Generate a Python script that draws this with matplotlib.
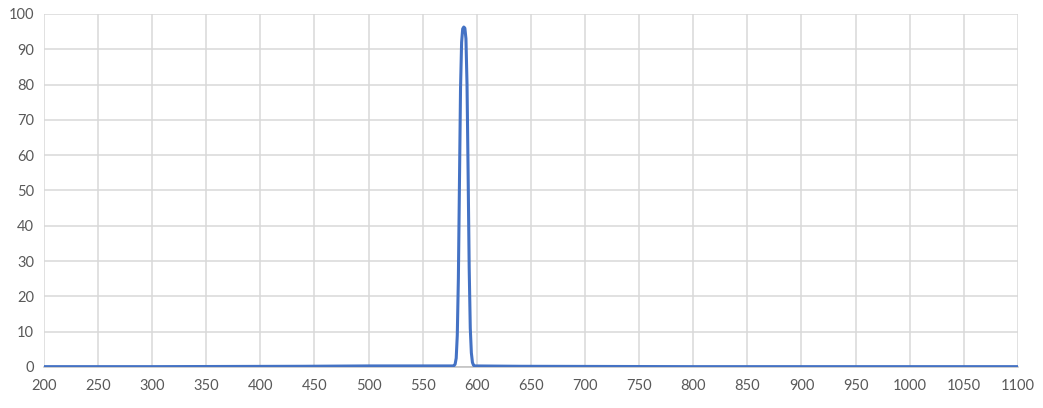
import numpy as np
import matplotlib.pyplot as plt

plt.rcParams['font.family'] = ['Lato', 'DejaVu Sans']

# wavelength (nm) and transmission (%)
wavelength = [200, 300, 440, 500, 578, 579, 580, 581, 582, 583, 584, 585, 586,
              587, 588, 589, 590, 591, 592, 593, 594, 595, 596, 597, 598,
              640, 800, 1100]
transmission = [0.1, 0.1, 0.2, 0.3, 0.3, 0.4, 0.8, 2.5, 9, 25, 52, 79, 92,
                95.8, 96.3, 96.0, 93, 80, 55, 28, 11, 4, 1.3, 0.5, 0.3,
                0.2, 0.1, 0.1]

xticks = list(range(200, 1101, 50))
yticks = list(range(0, 101, 10))

fig = plt.figure(figsize=(10.43, 4.08), dpi=100)
ax = fig.add_axes([0.042, 0.1005, 0.934, 0.8652])

ax.plot(wavelength, transmission, color='#4472c4', linewidth=2.2,
        solid_joinstyle='round', zorder=3)

ax.set_xlim(200, 1100)
ax.set_ylim(0, 100)
ax.set_xticks(xticks)
ax.set_yticks(yticks)
ax.grid(True, color='#d9d9d9', linewidth=1.1)
ax.set_axisbelow(True)
for s in ['top', 'right', 'left']:
    ax.spines[s].set_visible(False)
ax.spines['bottom'].set_color('#bfbfbf')
ax.spines['bottom'].set_linewidth(1.1)
ax.tick_params(length=0, labelsize=10.5, labelcolor='#595959', pad=7)
ax.tick_params(axis='x', pad=9)

fig.savefig('out.png', dpi=100)
